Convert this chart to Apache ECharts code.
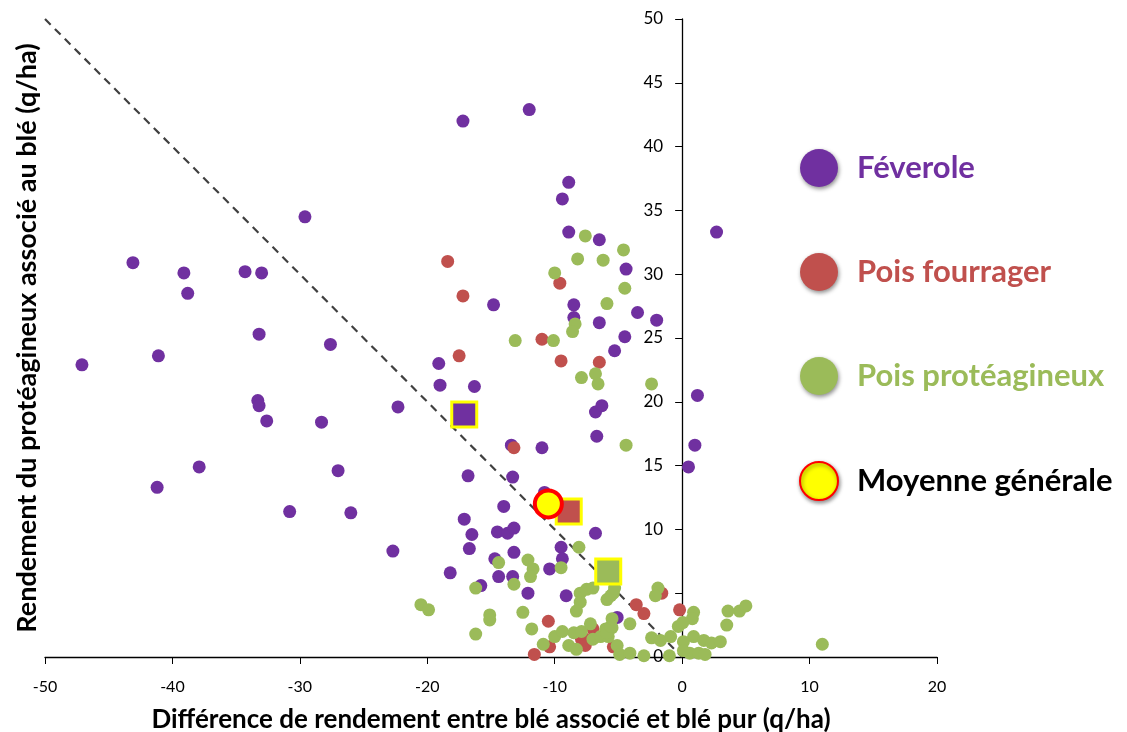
<!DOCTYPE html>
<html><head><meta charset="utf-8">
<script src="https://cdn.jsdelivr.net/npm/echarts@6/dist/echarts.min.js"></script>
<style>html,body{margin:0;padding:0;background:#fff}#c{width:1127px;height:732px}</style>
</head><body><div id="c"></div>
<script>
const xTicks = [-50, 20, 10];   // min, max, interval
const yTicks = [0, 50, 5];
const xTitle = 'Différence de rendement entre blé associé et blé pur (q/ha)';
const yTitle = 'Rendement du protéagineux associé au blé (q/ha)';
const seriesNames = ['Féverole', 'Pois fourrager', 'Pois protéagineux', 'Moyenne générale'];

const feverole = [[-29.6,34.5],[-43.1,30.9],[-39.1,30.1],[-38.8,28.5],[-34.3,30.2],[-33.0,30.1],[-33.2,25.3],[-27.6,24.5],[-47.1,22.9],[-41.1,23.6],[-33.3,20.1],[-33.2,19.7],[-32.6,18.5],[-28.3,18.4],[-37.9,14.9],[-27.0,14.6],[-41.2,13.3],[-30.8,11.4],[-26.0,11.3],[-22.7,8.3],[-22.3,19.6],
[-17.2,42.0],[-12.0,42.9],[-8.9,37.2],[-9.4,35.9],[-8.9,33.3],[-6.5,32.7],[-4.4,30.4],[-14.8,27.6],[-8.5,27.6],[-3.5,27.0],[-2.0,26.4],[-8.5,26.6],[-6.5,26.2],[-4.5,25.1],[-5.3,24.0],[-19.1,23.0],[-19.0,21.3],[-16.3,21.2],
[2.7,33.3],[1.2,20.5],[0.5,14.9],[1.0,16.6],
[-6.8,19.2],[-6.3,19.7],[-6.7,17.3],[-13.4,16.6],[-11.0,16.4],[-16.8,14.2],[-13.3,14.1],[-10.8,12.9],[-14.0,11.8],[-17.1,10.8],[-16.5,9.6],[-14.5,9.8],[-13.7,9.7],[-13.2,10.1],[-6.8,9.7],[-16.7,8.5],[-9.5,8.6],[-13.2,8.2],[-14.7,7.7],[-9.4,7.7],[-10.4,6.9],[-18.2,6.6],[-14.4,6.3],[-13.3,6.3],[-15.8,5.6],[-12.1,5.0],[-9.1,4.8],[-5.1,3.1]];

const poisFourrager = [[-18.4,31.0],[-9.6,29.3],[-17.2,28.3],[-11.0,24.9],[-17.5,23.6],[-9.5,23.2],[-6.5,23.1],[-13.2,16.4],[-10.5,2.8],[-11.6,0.2],[-10.4,0.8],[-1.6,5.0],[-3.6,4.1],[-3.0,3.4],[-0.2,3.7],[-7.0,2.2],[-7.9,1.4],[-7.6,1.4],[-7.6,0.9],[-5.4,0.8]];

const poisProteagineux = [[-7.6,33.0],[-4.6,31.9],[-8.2,31.2],[-6.2,31.1],[-10.0,30.1],[-4.5,28.9],[-5.9,27.7],[-8.4,26.1],[-8.6,25.5],[-13.1,24.8],[-10.1,24.8],[-7.9,21.9],[-6.8,22.2],[-6.6,21.4],[-2.4,21.4],[-4.4,16.6],
[-8.1,8.6],[-14.4,7.4],[-12.1,7.6],[-11.7,6.9],[-11.9,6.3],[-9.5,7.0],[-13.2,5.7],[-16.2,5.4],[-20.5,4.1],[-19.9,3.7],[-15.1,3.3],[-15.1,2.9],[-12.5,3.5],[-16.2,1.8],[-11.8,2.2],[-10.9,1.0],[-10.0,1.6],
[-8.0,5.0],[-7.5,5.3],[-7.0,5.4],[-8.0,4.3],[-8.3,3.6],[-5.9,4.5],[-5.6,4.8],[-5.4,5.0],[-5.3,5.4],[-1.9,5.4],[-2.1,4.8],[-4.1,2.6],
[-9.4,2.0],[-8.9,0.9],[-8.3,0.6],[-8.5,1.9],[-7.9,2.0],[-7.2,2.6],[-7.0,1.4],[-6.4,1.6],[-6.0,2.2],[-5.5,2.3],[-5.8,1.6],[-5.1,0.9],[-4.9,0.2],[-4.1,0.3],[-3.0,0.1],[-2.4,1.5],[-1.7,1.3],[-0.9,1.6],[-1.0,0.1],[-5.9,1.9],[-5.6,2.4],[-5.5,3.0],[-0.3,2.4],
[0.9,3.5],[0.8,3.0],[0.05,2.7],[3.6,3.6],[4.5,3.6],[5.0,4.0],[3.5,2.5],[0.9,1.6],[1.7,1.3],[2.3,1.1],[3.0,1.2],[0.1,1.2],[0.6,0.3],[1.3,0.3],[1.8,0.2],[0.1,0.5],[11.0,1.0]];

const meanFeverole = [[-17.1, 19.0]];
const meanFourrager = [[-8.9, 11.4]];
const meanProteagineux = [[-5.8, 6.7]];
const meanGenerale = [[-10.5, 12.0]];
const diagonal = [[-50, 50], [0, 0]];

const colors = ['#7030A0', '#C0504D', '#9BBB59'];
const FONT = 'Lato, "Open Sans", sans-serif';

const GRID = { left: 45, right: 190, top: 19, bottom: 75 };
const gridW = 1127 - GRID.left - GRID.right;
const yAxisOffset = -gridW * (0 - xTicks[0]) / (xTicks[1] - xTicks[0]);

const chart = echarts.init(document.getElementById('c'));
function pts(name, data, color) {
  return { name, type: 'scatter', data, symbol: 'circle', symbolSize: 13,
    itemStyle: { color, opacity: 1 }, z: 3 };
}
function meanSq(data, color) {
  return { name: 'm_' + color, type: 'scatter', data, symbol: 'rect', symbolSize: 25,
    itemStyle: { color, borderColor: '#FFFF00', borderWidth: 3, opacity: 1 }, z: 5 };
}
chart.setOption({
  animation: false,
  grid: Object.assign({ containLabel: false, outerBoundsMode: 'none' }, GRID),
  xAxis: {
    type: 'value', min: xTicks[0], max: xTicks[1], interval: xTicks[2],
    axisLine: { onZero: false, lineStyle: { color: '#000', width: 1.3 } },
    axisTick: { show: true, length: 7, lineStyle: { color: '#000' } },
    axisLabel: { color: '#000', fontSize: 16, fontFamily: FONT, margin: 22 },
    splitLine: { show: false },
    name: xTitle, nameLocation: 'middle', nameGap: 50,
    nameTextStyle: { color: '#000', fontSize: 26, fontWeight: 'bold', fontFamily: FONT }
  },
  yAxis: {
    type: 'value', position: 'left', offset: yAxisOffset,
    min: yTicks[0], max: yTicks[1], interval: yTicks[2],
    axisLine: { onZero: false, lineStyle: { color: '#000', width: 1.3 } },
    axisTick: { show: true, length: 7, lineStyle: { color: '#000' } },
    axisLabel: { color: '#000', fontSize: 17, fontFamily: FONT, margin: 19 },
    splitLine: { show: false },
    name: yTitle, nameLocation: 'middle', nameGap: 641, nameRotate: 90,
    nameTextStyle: { color: '#000', fontSize: 27, fontWeight: 'bold', fontFamily: FONT }
  },
  legend: {
    orient: 'vertical', left: 799, top: 149, padding: 0, itemWidth: 38, itemHeight: 38, itemGap: 66,
    icon: 'circle', selectedMode: false,
    itemStyle: { shadowBlur: 4, shadowColor: 'rgba(0,0,0,0.45)', shadowOffsetX: 1, shadowOffsetY: 2 },
    textStyle: { fontSize: 31, fontWeight: 'bold', fontFamily: FONT, padding: [0, 0, 0, 14] },
    data: [
      { name: seriesNames[0], textStyle: { color: colors[0] } },
      { name: seriesNames[1], textStyle: { color: colors[1] } },
      { name: seriesNames[2], textStyle: { color: colors[2] } },
      { name: seriesNames[3], textStyle: { color: '#000' } }
    ]
  },
  series: [
    { name: 'diag', type: 'line', data: diagonal, symbol: 'none', silent: true,
      lineStyle: { color: '#404040', width: 2.2, type: [8, 6] }, z: 2 },
    pts(seriesNames[0], feverole, colors[0]),
    pts(seriesNames[1], poisFourrager, colors[1]),
    pts(seriesNames[2], poisProteagineux, colors[2]),
    meanSq(meanFeverole, colors[0]),
    meanSq(meanFourrager, colors[1]),
    meanSq(meanProteagineux, colors[2]),
    { name: seriesNames[3], type: 'scatter', data: meanGenerale, symbol: 'circle', symbolSize: 27,
      itemStyle: { color: '#FFFF00', borderColor: '#FF0000', borderWidth: 4, opacity: 1 }, z: 6 }
  ]
});
</script></body></html>
